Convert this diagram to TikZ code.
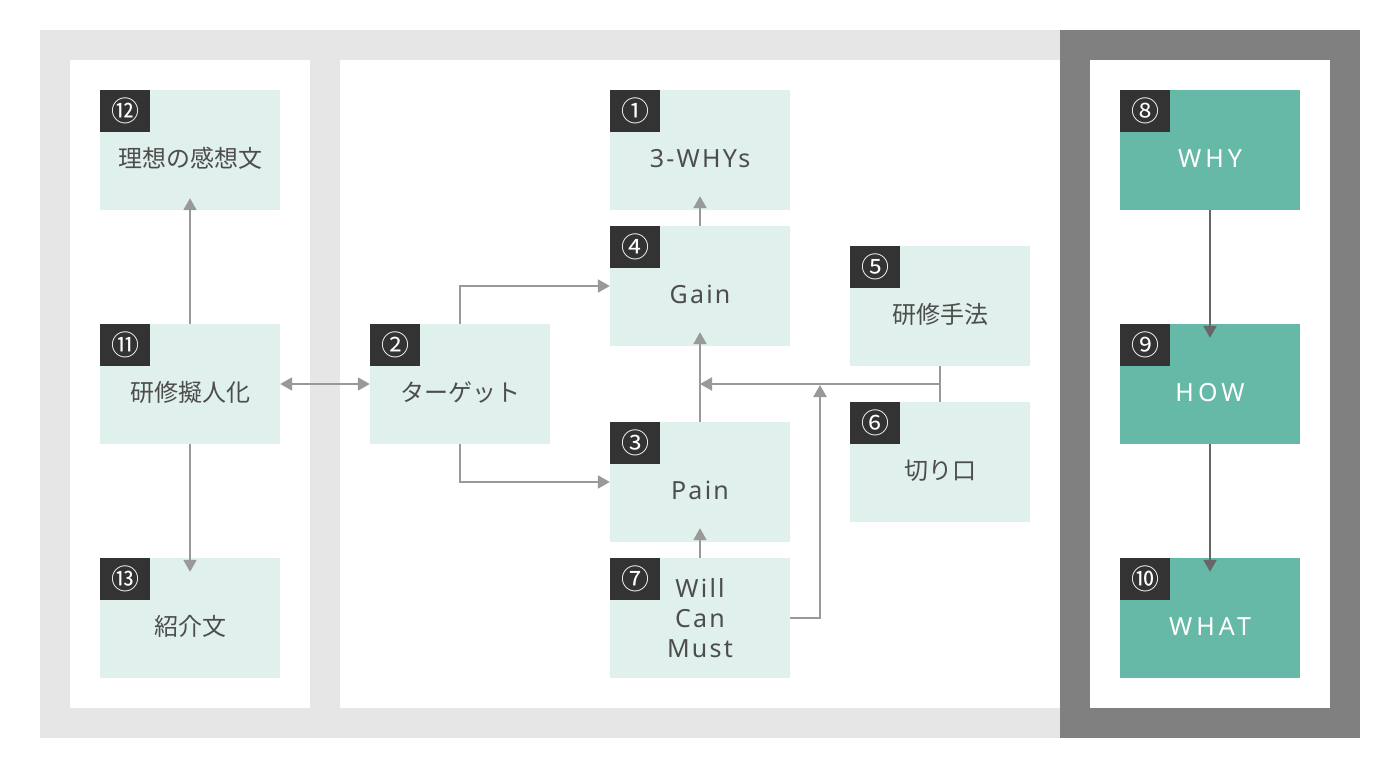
\documentclass[tikz,border=0pt]{standalone}
\usepackage{fontspec}
\setmainfont{Noto Sans CJK JP}
\newfontfamily\latinfont{Noto Sans}[LetterSpace=9]
\newfontfamily\capsfont{Noto Sans}[LetterSpace=16]
\usetikzlibrary{arrows.meta,calc}

\definecolor{bglight}{HTML}{E6E6E6}
\definecolor{bgdark}{HTML}{808080}
\definecolor{mint}{HTML}{E0F0EC}
\definecolor{teal}{HTML}{66B9A6}
\definecolor{badge}{HTML}{333333}
\definecolor{ink}{HTML}{4D4D4D}
\definecolor{arrlight}{HTML}{999999}
\definecolor{arrdark}{HTML}{666666}

\begin{document}
\begin{tikzpicture}[x=1pt,y=-1pt,
    card/.style={minimum width=180pt, minimum height=120pt, inner sep=0pt, fill=mint, text=ink, align=center,
      font=\fontsize{24}{30}\selectfont},
    low/.style={text height=34pt, text depth=0pt},
    latin/.style={font=\fontsize{25}{30}\selectfont\latinfont},
    hot/.style={card, low, font=\fontsize{25}{30}\selectfont\capsfont, fill=teal, text=white},
    num/.style={anchor=north west, minimum width=50pt, minimum height=42pt, inner sep=0pt, fill=badge, text=white,
      font=\fontsize{28}{28}\selectfont},
    arr/.style={draw=arrlight, line width=2pt, -{Triangle[width=13pt,length=12pt]}},
    darr/.style={draw=arrdark, line width=2pt, -{Triangle[width=13pt,length=12pt]}}
    ]

    % panels
    \fill[white] (0,0) rectangle (1400,768);
    \useasboundingbox (0,0) rectangle (1400,768);
    \fill[bglight] (40,30) rectangle (1060,738);
    \fill[bgdark] (1060,30) rectangle (1360,738);
    \fill[white] (70,60) rectangle (310,708);
    \fill[white] (340,60) rectangle (1060,708);
    \fill[white] (1090,60) rectangle (1330,708);

    % boxes
    \node[card, low] (c12) at (190,150) {理想の感想文};
    \node[card, low] (c11) at (190,384) {研修擬人化};
    \node[card, low] (c13) at (190,618) {紹介文};
    \node[card, low] (c2) at (460,384) {ターゲット};
    \node[card, low, latin] (c1) at (700,150) {3-WHYs};
    \node[card, low, latin] (c4) at (700,286) {Gain};
    \node[card, low, latin] (c3) at (700,482) {Pain};
    \node[card, latin] (c7) at (700,618) {Will\\Can\\Must};
    \node[card, low] (c5) at (940,306) {研修手法};
    \node[card, low] (c6) at (940,462) {切り口};
    \node[hot] (c8) at (1210,150) {WHY};
    \node[hot] (c9) at (1210,384) {HOW};
    \node[hot] (c10) at (1210,618) {WHAT};

    \foreach \b/\t in {c1/①,c2/②,c3/③,c4/④,c5/⑤,c6/⑥,c7/⑦,c8/⑧,c9/⑨,c10/⑩,c11/⑪,c12/⑫,c13/⑬}
      \node[num] (n-\b) at (\b.north west) {\t};

    % arrows
    \draw[arr] (c11.north) -- ([yshift=12pt]c12.south);
    \draw[arr] (c11.south) -- ([yshift=-14pt]c13.north);
    \draw[arr, {Triangle[width=13pt,length=12pt]}-{Triangle[width=13pt,length=12pt]}] (c11.east) -- (c2.west);
    \draw[arr] (c2.north) |- (c4.west);
    \draw[arr] (c2.south) |- (c3.west);
    \draw[arr] (c4.north) -- ([yshift=14pt]c1.south);
    \draw[arr] (c3.north) -- ([yshift=14pt]c4.south);
    \draw[arr] (c7.north) -- ([yshift=14pt]c3.south);

    \coordinate (join) at ($(c5.south)!0.5!(c6.north)$);
    \coordinate (rise) at (820,385);
    \draw[draw=arrlight, line width=2pt] (c5.south) -- (c6.north);
    \draw[arr] (join) -- (join -| c4.south);
    \draw[arr] (c7.east) -| (rise);

    \draw[darr] (c8.south) -- ([yshift=-14pt]c9.north);
    \draw[darr] (c9.south) -- ([yshift=-14pt]c10.north);
    %
\end{tikzpicture}
\end{document}
